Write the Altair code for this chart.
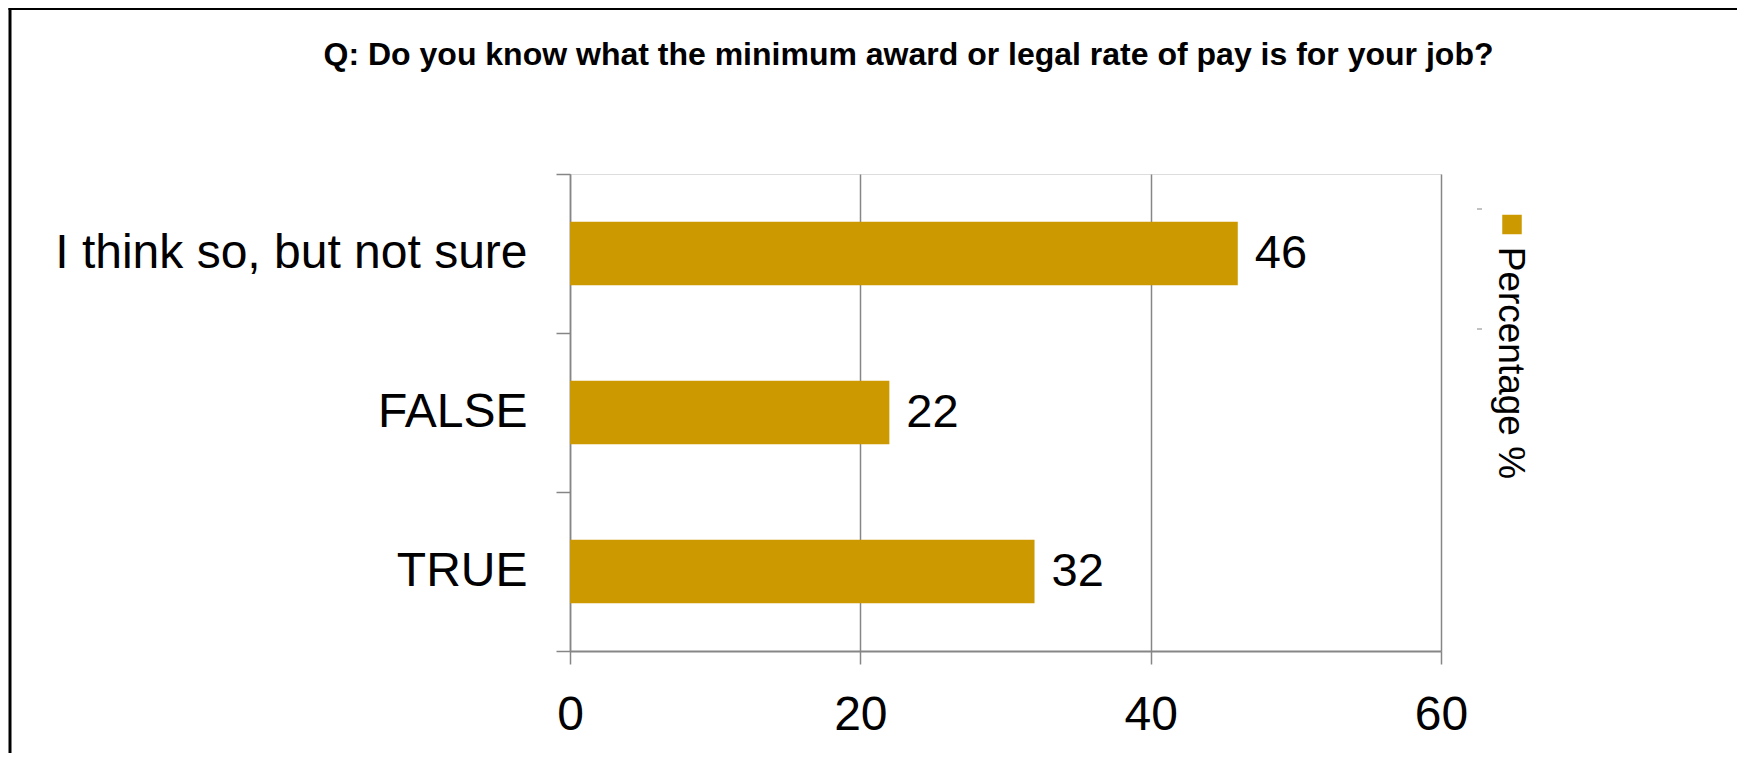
import altair as alt
import pandas as pd

categories = ["I think so, but not sure", "FALSE", "TRUE"]
values = [46, 22, 32]
series_name = ["Percentage %"]
title_text = "Q: Do you know what the minimum award or legal rate of pay is for your job?"
x_ticks = [0, 20, 40, 60]

FONT = "Liberation Sans"
GREY = "#868686"
BAR = "#CC9900"

W, H = 871, 477

df = pd.DataFrame({"answer": categories, "pct": values})
leg = pd.DataFrame({"series": series_name})

y_enc = alt.Y(
    "answer:N",
    sort=categories,
    scale=alt.Scale(paddingInner=0, paddingOuter=0),
    axis=alt.Axis(
        title=None,
        tickBand="extent",
        tickSize=14,
        tickColor=GREY,
        domainColor=GREY,
        domainWidth=1.5,
        tickWidth=1.5,
        labelFont=FONT,
        labelFontSize=48,
        labelColor="black",
        labelPadding=29,
        labelLimit=800,
        grid=False,
    ),
)

x_enc = alt.X(
    "pct:Q",
    scale=alt.Scale(domain=[0, 60], nice=False),
    axis=alt.Axis(
        title=None,
        values=x_ticks,
        tickSize=13,
        tickColor=GREY,
        tickWidth=1.5,
        domainColor=GREY,
        domainWidth=2,
        grid=True,
        gridColor=GREY,
        gridWidth=1.5,
        gridOpacity=1,
        labelFont=FONT,
        labelFontSize=48,
        labelColor="black",
        labelPadding=27,
        labelFlush=False,
    ),
)

bars = alt.Chart(df).mark_bar(
    color=BAR, height=alt.RelativeBandSize(0.4)
).encode(y=y_enc, x=x_enc)

labels = alt.Chart(df).mark_text(
    align="left", baseline="middle", dx=17, font=FONT, fontSize=47, color="black"
).encode(y=alt.Y("answer:N", sort=categories), x="pct:Q", text="pct:Q")

leg_sym = alt.Chart(leg).mark_point(
    shape="square", filled=True, size=380, color=BAR, opacity=1
).encode(x=alt.value(942), y=alt.value(50.5))

leg_txt = alt.Chart(leg).mark_text(
    angle=90, align="left", baseline="middle", font=FONT, fontSize=37, color="black"
).encode(x=alt.value(940), y=alt.value(72.7), text="series:N")

leg_dash1 = alt.Chart(leg).mark_rule(color=GREY, strokeWidth=1).encode(
    x=alt.value(907), x2=alt.value(912), y=alt.value(35)
)
leg_dash2 = alt.Chart(leg).mark_rule(color=GREY, strokeWidth=1).encode(
    x=alt.value(907), x2=alt.value(912), y=alt.value(155)
)

frame_left = alt.Chart(leg).mark_rule(color="black", strokeWidth=3).encode(
    x=alt.value(-560), y=alt.value(-166), y2=alt.value(H + 110)
)
frame_top = alt.Chart(leg).mark_rule(color="black", strokeWidth=2).encode(
    x=alt.value(-561.5), x2=alt.value(1200), y=alt.value(-165)
)

chart = alt.layer(
    bars, labels, leg_sym, leg_txt, leg_dash1, leg_dash2, frame_left, frame_top
).properties(
    width=W,
    height=H,
    autosize=alt.AutoSizeParams(type="none"),
    padding={"left": 562, "top": 166, "right": 296, "bottom": 102},
    title=alt.TitleParams(
        text=title_text,
        font=FONT,
        fontSize=32,
        fontWeight="bold",
        color="black",
        anchor="middle",
        frame="group",
        baseline="alphabetic",
        dx=-97,
        dy=90,
        offset=0,
    ),
).configure_view(stroke=None).configure(background="white")

chart.save("out.html", embed_options={"renderer": "svg", "actions": False})
